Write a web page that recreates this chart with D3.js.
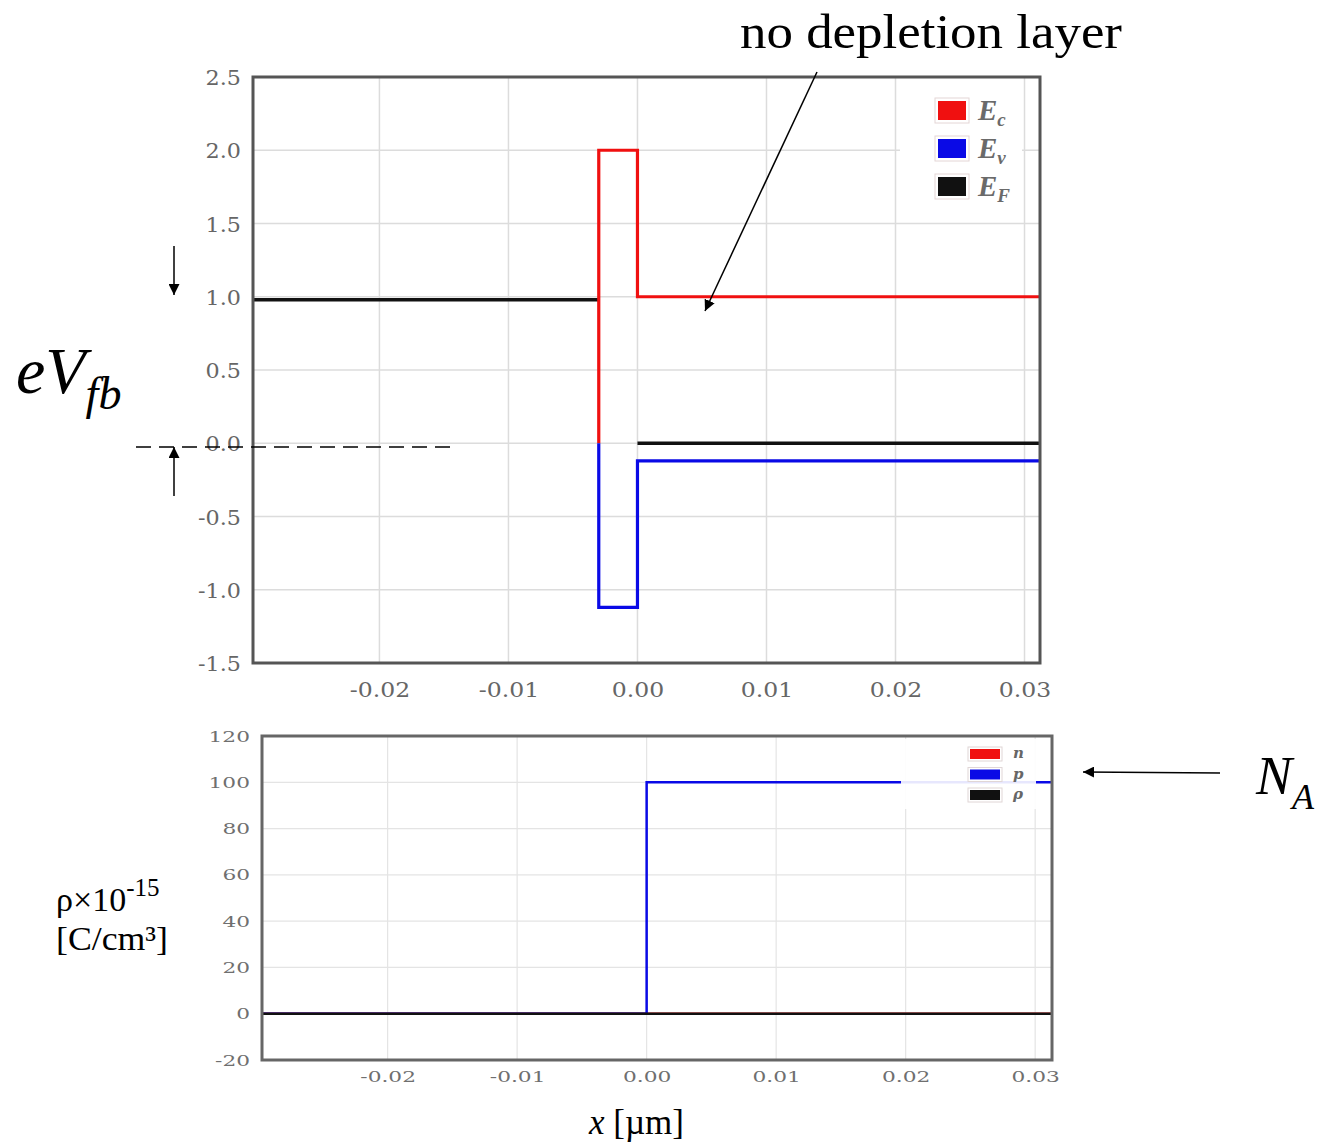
<!DOCTYPE html>
<html>
<head>
<meta charset="utf-8">
<script src="https://cdn.jsdelivr.net/npm/d3@7"></script>
<style>
  html, body { margin: 0; padding: 0; background: #fff; }
  svg { display: block; }
</style>
</head>
<body>
<svg id="chart" width="1318" height="1143"></svg>
<script>
// ---------------- DATA ----------------
// Top panel: band diagram (energy in eV vs x in µm)
const topXTicks = [-0.02, -0.01, 0.00, 0.01, 0.02, 0.03];
const topYTicks = [2.5, 2.0, 1.5, 1.0, 0.5, 0.0, -0.5, -1.0, -1.5];
const xEc = [-0.003, -0.003, 0.0, 0.0, 0.0312];
const Ec  = [0.0, 2.0, 2.0, 1.0, 1.0];
const xEv = [-0.003, -0.003, 0.0, 0.0, 0.0312];
const Ev  = [0.0, -1.12, -1.12, -0.12, -0.12];
const xEF = [-0.0298, -0.003, -0.0015, 0.0, 0.0312];
const EF  = [0.98, 0.98, null, 0.0, 0.0];
const topLegend = ["E", "E", "E"];
const topLegendSub = ["c", "v", "F"];

// Bottom panel: charge density (×10^-15 C/cm³)
const botXTicks = [-0.02, -0.01, 0.00, 0.01, 0.02, 0.03];
const botYTicks = [120, 100, 80, 60, 40, 20, 0, -20];
const xN = [-0.0297, 0.0313];
const nVals = [0, 0];
const xP = [-0.0297, 0.0, 0.0, 0.0313];
const pVals = [0, 0, 100, 100];
const xRho = [-0.0297, 0.0313];
const rhoVals = [0, 0];
const botLegend = ["n", "p", "ρ"];

const seriesColors = ["#f01010", "#0a0ae6", "#111111"];

// ---------------- DRAW ----------------
const svg = d3.select("#chart");
const tickFont = "DejaVu Serif";

function stretch(sel, k) {
  sel.each(function () {
    const w = this.getComputedTextLength();
    d3.select(this).attr("textLength", w * k).attr("lengthAdjust", "spacingAndGlyphs");
  });
}

// ===== Top panel =====
const T = { l: 253, r: 1040, t: 77, b: 663 };
const xT = d3.scaleLinear().domain([-0.0298, 0.0312]).range([T.l, T.r]);
const yT = d3.scaleLinear().domain([-1.5, 2.5]).range([T.b, T.t]);

const gT = svg.append("g");
gT.append("defs").append("clipPath").attr("id", "clipT")
  .append("rect").attr("x", T.l).attr("y", T.t).attr("width", T.r - T.l).attr("height", T.b - T.t);

// grid
gT.append("g").selectAll("line.v").data(topXTicks).join("line")
  .attr("x1", d => xT(d)).attr("x2", d => xT(d)).attr("y1", T.t).attr("y2", T.b)
  .attr("stroke", "#dcdcdc").attr("stroke-width", 1.5);
gT.append("g").selectAll("line.h").data(topYTicks).join("line")
  .attr("x1", T.l).attr("x2", T.r).attr("y1", d => yT(d)).attr("y2", d => yT(d))
  .attr("stroke", "#dcdcdc").attr("stroke-width", 1.5);

const lineT = d3.line().defined(d => d[1] !== null).x(d => xT(d[0])).y(d => yT(d[1]));
const plotT = gT.append("g").attr("clip-path", "url(#clipT)");
plotT.append("path").datum(d3.zip(xEF, EF)).attr("d", lineT)
  .attr("fill", "none").attr("stroke", seriesColors[2]).attr("stroke-width", 3.5);
plotT.append("path").datum(d3.zip(xEc, Ec)).attr("d", lineT)
  .attr("fill", "none").attr("stroke", seriesColors[0]).attr("stroke-width", 3.2);
plotT.append("path").datum(d3.zip(xEv, Ev)).attr("d", lineT)
  .attr("fill", "none").attr("stroke", seriesColors[1]).attr("stroke-width", 3.2);

// legend
const legT = gT.append("g");
legT.append("rect").attr("x", 900).attr("y", 80).attr("width", 122).attr("height", 136).attr("fill", "#fff");
topLegend.forEach((lab, i) => {
  const y0 = 98 + i * 38;
  legT.append("rect").attr("x", 935).attr("y", y0).attr("width", 34).attr("height", 25)
    .attr("fill", "#fff").attr("stroke", "#e4d6d6").attr("stroke-width", 1);
  legT.append("rect").attr("x", 938).attr("y", y0 + 3).attr("width", 28).attr("height", 19)
    .attr("fill", seriesColors[i]);
  const t = legT.append("text").attr("x", 978).attr("y", y0 + 22)
    .attr("font-family", "Liberation Serif").attr("font-style", "italic").attr("font-weight", "bold")
    .attr("font-size", 29).attr("fill", "#6a6a6a").text(lab);
  t.append("tspan").attr("font-size", 19).attr("dy", 6).text(topLegendSub[i]);
});

// frame
gT.append("rect").attr("x", T.l).attr("y", T.t).attr("width", T.r - T.l).attr("height", T.b - T.t)
  .attr("fill", "none").attr("stroke", "#555").attr("stroke-width", 3);

// axes labels
const axTY = gT.append("g").attr("transform", `translate(${T.l - 9},0)`)
  .call(d3.axisLeft(yT).tickValues(topYTicks).tickSize(0).tickFormat(d3.format(".1f")));
axTY.select(".domain").remove();
axTY.selectAll("text").attr("font-family", tickFont).attr("font-size", 21).attr("fill", "#666")
  .attr("dy", "0.36em").text(d => d3.format(".1f")(d).replace("−", "-"));
stretch(axTY.selectAll("text"), 1.06);

const axTX = gT.append("g").attr("transform", `translate(0,${T.b + 16})`)
  .call(d3.axisBottom(xT).tickValues(topXTicks).tickSize(0).tickFormat(d3.format(".2f")));
axTX.select(".domain").remove();
axTX.selectAll("text").attr("font-family", tickFont).attr("font-size", 21).attr("fill", "#666")
  .text(d => d3.format(".2f")(d).replace("−", "-"));
stretch(axTX.selectAll("text"), 1.12);

// ===== Bottom panel =====
const B = { l: 262, r: 1052, t: 736, b: 1060 };
const xB = d3.scaleLinear().domain([-0.0297, 0.0313]).range([B.l, B.r]);
const yB = d3.scaleLinear().domain([-20, 120]).range([B.b, B.t]);

const gB = svg.append("g");
gB.append("defs").append("clipPath").attr("id", "clipB")
  .append("rect").attr("x", B.l).attr("y", B.t).attr("width", B.r - B.l).attr("height", B.b - B.t);

gB.append("g").selectAll("line").data(botXTicks).join("line")
  .attr("x1", d => xB(d)).attr("x2", d => xB(d)).attr("y1", B.t).attr("y2", B.b)
  .attr("stroke", "#e4e4e4").attr("stroke-width", 1.2);
gB.append("g").selectAll("line").data(botYTicks).join("line")
  .attr("x1", B.l).attr("x2", B.r).attr("y1", d => yB(d)).attr("y2", d => yB(d))
  .attr("stroke", "#e4e4e4").attr("stroke-width", 1.2);

const lineB = d3.line().x(d => xB(d[0])).y(d => yB(d[1]));
const plotB = gB.append("g").attr("clip-path", "url(#clipB)");
plotB.append("path").datum(d3.zip(xN, nVals)).attr("d", lineB)
  .attr("fill", "none").attr("stroke", seriesColors[0]).attr("stroke-width", 2.5);
plotB.append("path").datum(d3.zip(xP, pVals)).attr("d", lineB)
  .attr("fill", "none").attr("stroke", seriesColors[1]).attr("stroke-width", 2.5);
plotB.append("path").datum(d3.zip(xRho, rhoVals)).attr("d", lineB)
  .attr("fill", "none").attr("stroke", seriesColors[2]).attr("stroke-width", 2.5);

const legB = gB.append("g");
legB.append("rect").attr("x", 901).attr("y", 739).attr("width", 135).attr("height", 70)
  .attr("fill", "#fff").attr("fill-opacity", 0.9);
botLegend.forEach((lab, i) => {
  const y0 = 747 + i * 20.5;
  legB.append("rect").attr("x", 968).attr("y", y0).attr("width", 34).attr("height", 14)
    .attr("fill", "#fff").attr("stroke", "#e0d6d6").attr("stroke-width", 1);
  legB.append("rect").attr("x", 970).attr("y", y0 + 2).attr("width", 30).attr("height", 10)
    .attr("fill", seriesColors[i]);
  legB.append("text").attr("x", 1013).attr("y", y0 + 11)
    .attr("font-family", "DejaVu Serif").attr("font-style", "italic").attr("font-weight", "bold")
    .attr("font-size", 15).attr("fill", "#666").text(lab);
});

gB.append("rect").attr("x", B.l).attr("y", B.t).attr("width", B.r - B.l).attr("height", B.b - B.t)
  .attr("fill", "none").attr("stroke", "#666").attr("stroke-width", 3);

const axBY = gB.append("g").attr("transform", `translate(${B.l - 9},0)`)
  .call(d3.axisLeft(yB).tickValues(botYTicks).tickSize(0));
axBY.select(".domain").remove();
axBY.selectAll("text").attr("font-family", tickFont).attr("font-size", 14).attr("fill", "#6f6f6f")
  .attr("dy", "0.36em").text(d => String(d).replace("−", "-"));
stretch(axBY.selectAll("text"), 1.55);

const axBX = gB.append("g").attr("transform", `translate(0,${B.b + 9})`)
  .call(d3.axisBottom(xB).tickValues(botXTicks).tickSize(0).tickFormat(d3.format(".2f")));
axBX.select(".domain").remove();
axBX.selectAll("text").attr("font-family", tickFont).attr("font-size", 14).attr("fill", "#6f6f6f")
  .text(d => d3.format(".2f")(d).replace("−", "-"));
stretch(axBX.selectAll("text"), 1.55);

// ===== Annotations =====
const ann = svg.append("g").attr("font-family", "Liberation Serif").attr("fill", "#000");
const defs = svg.append("defs");
defs.append("marker").attr("id", "arr").attr("viewBox", "0 0 10 10").attr("refX", 10).attr("refY", 5)
  .attr("markerWidth", 11).attr("markerHeight", 11).attr("markerUnits", "userSpaceOnUse")
  .attr("orient", "auto")
  .append("path").attr("d", "M0,0 L10,5 L0,10 z").attr("fill", "#000");

ann.append("text").attr("x", 740).attr("y", 48).attr("font-size", 49)
  .attr("textLength", 382).attr("lengthAdjust", "spacingAndGlyphs").text("no depletion layer");
ann.append("line").attr("x1", 817).attr("y1", 72).attr("x2", 705).attr("y2", 311)
  .attr("stroke", "#000").attr("stroke-width", 1.5).attr("marker-end", "url(#arr)");

const ev = ann.append("text").attr("x", 16).attr("y", 393).attr("font-size", 66).attr("font-style", "italic");
ev.append("tspan").text("eV");
ev.append("tspan").attr("font-size", 46).attr("dy", 16).text("fb");

ann.append("line").attr("x1", 174).attr("y1", 246).attr("x2", 174).attr("y2", 295)
  .attr("stroke", "#000").attr("stroke-width", 1.5).attr("marker-end", "url(#arr)");
ann.append("line").attr("x1", 174).attr("y1", 496).attr("x2", 174).attr("y2", 447)
  .attr("stroke", "#000").attr("stroke-width", 1.5).attr("marker-end", "url(#arr)");
ann.append("line").attr("x1", 136).attr("y1", 447).attr("x2", 458).attr("y2", 447)
  .attr("stroke", "#000").attr("stroke-width", 1.5).attr("stroke-dasharray", "15,8");

const na = ann.append("text").attr("x", 1256).attr("y", 794).attr("font-size", 54).attr("font-style", "italic");
na.append("tspan").text("N");
na.append("tspan").attr("font-size", 36).attr("dy", 15).text("A");
ann.append("line").attr("x1", 1220).attr("y1", 773).attr("x2", 1083).attr("y2", 772)
  .attr("stroke", "#000").attr("stroke-width", 1.5).attr("marker-end", "url(#arr)");

const rho = ann.append("text").attr("x", 56).attr("y", 911).attr("font-size", 34);
rho.append("tspan").text("ρ×10");
rho.append("tspan").attr("font-size", 25).attr("dy", -15).text("-15");
ann.append("text").attr("x", 56).attr("y", 950).attr("font-size", 34)
  .attr("textLength", 112).attr("lengthAdjust", "spacingAndGlyphs").text("[C/cm³]");

const xl = ann.append("text").attr("x", 589).attr("y", 1134).attr("font-size", 35);
xl.append("tspan").attr("font-style", "italic").text("x");
xl.append("tspan").text(" [µm]");
</script>
</body>
</html>
